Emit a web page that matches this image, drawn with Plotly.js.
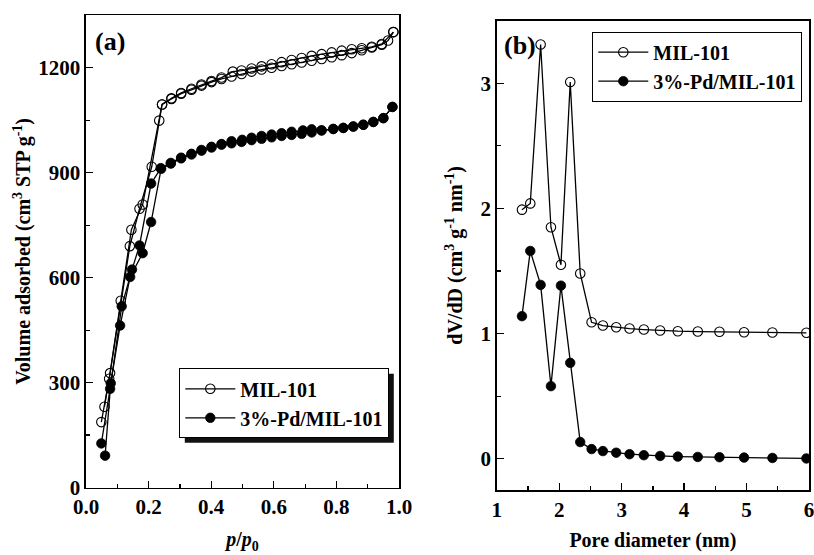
<!DOCTYPE html>
<html>
<head>
<meta charset="utf-8">
<script src="https://cdn.plot.ly/plotly-3.0.1.min.js"></script>
<style>html,body{margin:0;padding:0;background:#fff;}#chart{width:814px;height:555px;}</style>
</head>
<body>
<div id="chart"></div>
<script>
// Panel (a): N2 isotherms, relative pressure p/p0 vs volume adsorbed
const milAdsP = [0.059, 0.077, 0.111, 0.145, 0.181, 0.234, 0.243, 0.273, 0.304, 0.337, 0.369, 0.401, 0.433, 0.465, 0.497, 0.529, 0.561, 0.593, 0.625, 0.657, 0.689, 0.721, 0.753, 0.785, 0.817, 0.849, 0.881, 0.913, 0.945, 0.965, 0.982];
const milAdsV = [231, 327, 534, 737, 809, 1049, 1095, 1111, 1126, 1137, 1149, 1159, 1168, 1175, 1182, 1189, 1195, 1200, 1205, 1210, 1215, 1220, 1225, 1230, 1236, 1242, 1250, 1258, 1266, 1278, 1302];
const milDesP = [0.982, 0.945, 0.913, 0.881, 0.849, 0.817, 0.785, 0.753, 0.721, 0.689, 0.657, 0.625, 0.593, 0.561, 0.529, 0.497, 0.469, 0.433, 0.401, 0.369, 0.337, 0.304, 0.273, 0.243, 0.210, 0.171, 0.140, 0.074, 0.049];
const milDesV = [1302, 1268, 1260, 1256, 1253, 1249, 1244, 1239, 1234, 1228, 1222, 1216, 1210, 1204, 1198, 1192, 1189, 1172, 1162, 1152, 1140, 1128, 1113, 1095, 917, 797, 690, 311, 187];

const pdAdsP = [0.061, 0.079, 0.109, 0.141, 0.181, 0.208, 0.240, 0.271, 0.304, 0.337, 0.369, 0.401, 0.433, 0.465, 0.497, 0.529, 0.561, 0.593, 0.625, 0.657, 0.689, 0.721, 0.753, 0.790, 0.822, 0.854, 0.886, 0.918, 0.950, 0.979];
const pdAdsV = [91, 298, 463, 602, 670, 759, 911, 926, 941, 952, 963, 972, 980, 984, 988, 993, 997, 1001, 1005, 1008, 1011, 1015, 1021, 1025, 1028, 1032, 1037, 1045, 1056, 1088];
const pdDesP = [0.979, 0.950, 0.918, 0.886, 0.854, 0.822, 0.790, 0.752, 0.721, 0.693, 0.657, 0.625, 0.593, 0.561, 0.529, 0.499, 0.465, 0.433, 0.401, 0.369, 0.337, 0.304, 0.271, 0.239, 0.208, 0.171, 0.147, 0.114, 0.077, 0.049];
const pdDesV = [1088, 1056, 1045, 1037, 1032, 1028, 1025, 1021, 1024, 1021, 1017, 1013, 1009, 1005, 1000, 994, 990, 982, 974, 965, 954, 943, 928, 913, 869, 692, 623, 518, 282, 126];

// Panel (b): pore size distribution
const poreD = [1.403, 1.536, 1.702, 1.867, 2.027, 2.176, 2.336, 2.518, 2.699, 2.912, 3.126, 3.355, 3.616, 3.899, 4.219, 4.566, 4.960, 5.414, 5.958];
const milDV = [1.99, 2.04, 3.31, 1.85, 1.55, 3.01, 1.48, 1.09, 1.064, 1.051, 1.040, 1.032, 1.024, 1.019, 1.016, 1.014, 1.011, 1.008, 1.006];
const pdDV  = [1.139, 1.66, 1.389, 0.580, 1.383, 0.766, 0.133, 0.077, 0.061, 0.048, 0.036, 0.028, 0.022, 0.017, 0.014, 0.012, 0.009, 0.006, 0.002];

const seriesNames = ['MIL-101', '3%-Pd/MIL-101'];

const serif = '"Liberation Serif", "Times New Roman", serif';
const lineStyle = {color: '#000', width: 1.3};
const openMarker = {symbol: 'circle-open', size: 9.5, color: '#000', line: {width: 1.1, color: '#000'}};
const fullMarker = {symbol: 'circle', size: 9.5, color: '#000', line: {width: 0.8, color: '#000'}};

const traces = [
  {x: milAdsP, y: milAdsV, xaxis: 'x', yaxis: 'y', mode: 'lines+markers', name: seriesNames[0], line: lineStyle, marker: openMarker, legend: 'legend'},
  {x: milDesP, y: milDesV, xaxis: 'x', yaxis: 'y', mode: 'lines+markers', name: seriesNames[0], line: lineStyle, marker: openMarker, showlegend: false},
  {x: pdAdsP, y: pdAdsV, xaxis: 'x', yaxis: 'y', mode: 'lines+markers', name: seriesNames[1], line: lineStyle, marker: fullMarker, legend: 'legend'},
  {x: pdDesP, y: pdDesV, xaxis: 'x', yaxis: 'y', mode: 'lines+markers', name: seriesNames[1], line: lineStyle, marker: fullMarker, showlegend: false},
  {x: poreD, y: milDV, xaxis: 'x2', yaxis: 'y2', mode: 'lines+markers', name: seriesNames[0], line: lineStyle, marker: openMarker, legend: 'legend2'},
  {x: poreD, y: pdDV, xaxis: 'x2', yaxis: 'y2', mode: 'lines+markers', name: seriesNames[1], line: lineStyle, marker: fullMarker, legend: 'legend2'}
];

const tickFont = {family: serif, size: 21, weight: 'bold', color: '#000'};
const titleFont = {family: serif, size: 20, weight: 'bold', color: '#000'};
const legendFont = {family: serif, size: 20, weight: 'bold', color: '#000'};
const axBase = {
  showline: true, linecolor: '#000', linewidth: 1.6, mirror: true,
  ticks: 'inside', ticklen: 7, tickwidth: 1.3, tickcolor: '#000',
  showgrid: false, zeroline: false, tickfont: tickFont, automargin: false,
  ticklabeloverflow: 'allow'
};

const W = 814, H = 555;
const layout = {
  width: W, height: H,
  margin: {l: 0, r: 0, t: 0, b: 0},
  paper_bgcolor: '#fff', plot_bgcolor: '#fff',
  xaxis: Object.assign({}, axBase, {
    domain: [86 / W, 399 / W], range: [0, 1.0], dtick: 0.2, tickformat: '.1f', anchor: 'y',
    minor: {ticks: 'inside', dtick: 0.1, ticklen: 4, tickwidth: 1.2, tickcolor: '#000'},
    title: {text: '<i>p</i>/<i>p</i><sub>0</sub>', font: titleFont, standoff: 14}
  }),
  yaxis: Object.assign({}, axBase, {
    domain: [1 - 487.5 / H, 1 - 15.3 / H], range: [0, 1350], dtick: 300, anchor: 'x',
    minor: {ticks: 'inside', dtick: 150, ticklen: 4, tickwidth: 1.2, tickcolor: '#000'},
    title: {text: 'Volume adsorbed (cm<sup>3</sup> STP g<sup>-1</sup>)', font: titleFont, standoff: 2}
  }),
  xaxis2: Object.assign({}, axBase, {
    domain: [496.8 / W, 809 / W], range: [1, 6], dtick: 1, anchor: 'y2',
    minor: {ticks: 'inside', dtick: 0.5, ticklen: 4, tickwidth: 1.2, tickcolor: '#000'},
    title: {text: 'Pore diameter (nm)', font: titleFont, standoff: 12}
  }),
  yaxis2: Object.assign({}, axBase, {
    domain: [1 - 490 / H, 1 - 20.7 / H], range: [-0.25, 3.5], dtick: 1, anchor: 'x2',
    minor: {ticks: 'inside', dtick: 0.5, ticklen: 4, tickwidth: 1.2, tickcolor: '#000'},
    title: {text: 'dV/dD (cm<sup>3</sup> g<sup>-1</sup> nm<sup>-1</sup>)', font: titleFont, standoff: 12}
  }),
  legend: {
    x: 179.3 / W, y: 1 - 368.3 / H, xanchor: 'left', yanchor: 'top',
    bgcolor: '#fff', bordercolor: '#000', borderwidth: 1,
    font: legendFont, tracegroupgap: 0, itemwidth: 50
  },
  legend2: {
    x: 592.3 / W, y: 1 - 31.7 / H, xanchor: 'left', yanchor: 'top',
    bgcolor: '#fff', bordercolor: '#000', borderwidth: 1,
    font: legendFont, tracegroupgap: 0, itemwidth: 50
  },
  shapes: [],
  annotations: [
    {text: '(a)', xref: 'paper', yref: 'paper', x: 93 / W, y: 1 - 41 / H, xanchor: 'left', yanchor: 'middle', showarrow: false, font: {family: serif, size: 26, weight: 'bold', color: '#000'}},
    {text: '(b)', xref: 'paper', yref: 'paper', x: 502 / W, y: 1 - 45 / H, xanchor: 'left', yanchor: 'middle', showarrow: false, font: {family: serif, size: 26, weight: 'bold', color: '#000'}}
  ],
  showlegend: true
};

Plotly.newPlot('chart', traces, layout, {staticPlot: true, displayModeBar: false}).then(function (gd) {
  // drop shadow behind each legend box, offset a few px right/down
  const off = 5;
  const shapes = [];
  gd.querySelectorAll('g.legend rect.bg').forEach(function (r) {
    const b = r.getBoundingClientRect();
    shapes.push({
      type: 'rect', xref: 'paper', yref: 'paper',
      x0: (b.left + off) / W, x1: (b.right + off) / W,
      y0: 1 - (b.bottom + off) / H, y1: 1 - (b.top + off) / H,
      fillcolor: '#111', line: {width: 0}, layer: 'above'
    });
  });
  return Plotly.relayout(gd, {shapes: shapes});
});
</script>
</body>
</html>
